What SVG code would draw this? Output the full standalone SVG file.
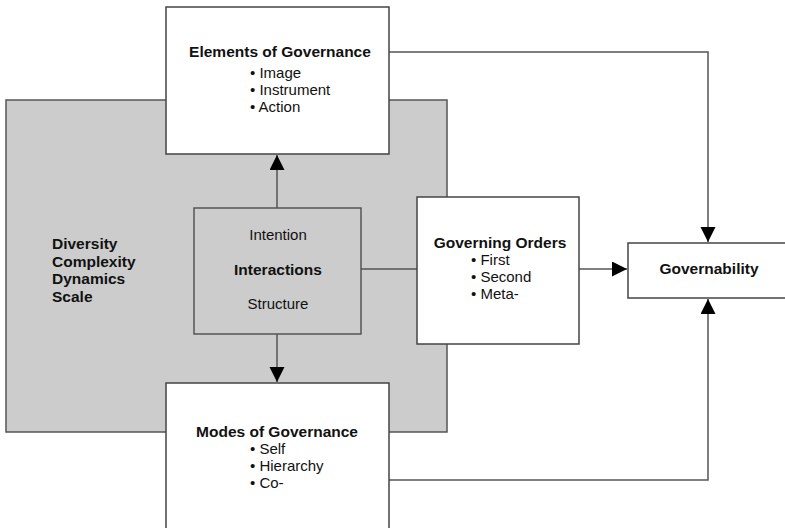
<svg xmlns="http://www.w3.org/2000/svg" width="785" height="528" viewBox="0 0 785 528">
<defs>
<style>
.box{fill:#fff;stroke:#444;stroke-width:1.5}
.bg{fill:#cccccc;stroke:#555;stroke-width:1.5}
.ln{fill:none;stroke:#555;stroke-width:1.5}
text{font-family:"Liberation Sans",Arial,sans-serif;fill:#111}
.b{font-weight:bold;font-size:15.5px}
.r{font-size:15px;font-weight:normal}
.c{text-anchor:middle}
.s{text-anchor:start}
</style>
<marker id="arr" markerUnits="userSpaceOnUse" markerWidth="16" markerHeight="16" refX="15" refY="7.5" orient="auto">
<path d="M0,0 L15,7.5 L0,15 Z" fill="#000"/>
</marker>
</defs>
<g id="context">
<rect class="bg" x="6" y="100" width="441" height="332"/>
<text class="b"><tspan x="52" y="249">Diversity</tspan><tspan x="52" y="266.5">Complexity</tspan><tspan x="52" y="284">Dynamics</tspan><tspan x="52" y="301.5">Scale</tspan></text>
</g>
<g id="connectors">
<line class="ln" x1="277" y1="208" x2="277" y2="155" marker-end="url(#arr)"/>
<line class="ln" x1="277" y1="334" x2="277" y2="382" marker-end="url(#arr)"/>
<line class="ln" x1="361" y1="269" x2="417" y2="269"/>
<line class="ln" x1="579" y1="269" x2="627" y2="269" marker-end="url(#arr)"/>
<polyline class="ln" points="389,52 708,52 708,242" marker-end="url(#arr)"/>
<polyline class="ln" points="389,480 708,480 708,299" marker-end="url(#arr)"/>
</g>
<g id="elements">
<rect class="box" x="166" y="7" width="223" height="147"/>
<text class="b c" x="280" y="57">Elements of Governance</text>
<text class="r"><tspan x="250" y="78">• Image</tspan><tspan x="250" y="95">• Instrument</tspan><tspan x="250" y="112">• Action</tspan></text>
</g>
<g id="interactions">
<rect class="bg" x="194" y="208" width="167" height="126"/>
<text class="r c" x="278" y="240">Intention</text>
<text class="b c" x="278" y="275">Interactions</text>
<text class="r c" x="278" y="309">Structure</text>
</g>
<g id="modes">
<rect class="box" x="166" y="383" width="223" height="160"/>
<text><tspan class="b c" x="277" y="437">Modes of Governance</tspan><tspan class="r s" x="250" y="454">• Self</tspan><tspan class="r s" x="250" y="471">• Hierarchy</tspan><tspan class="r s" x="250" y="488">• Co-</tspan></text>
</g>
<g id="orders">
<rect class="box" x="417" y="197" width="162" height="147"/>
<text><tspan class="b c" x="500" y="248">Governing Orders</tspan><tspan class="r s" x="471" y="265">• First</tspan><tspan class="r s" x="471" y="282">• Second</tspan><tspan class="r s" x="471" y="299">• Meta-</tspan></text>
</g>
<g id="governability">
<rect class="box" x="628" y="243" width="170" height="55"/>
<text class="b c" x="709" y="274">Governability</text>
</g>
</svg>
